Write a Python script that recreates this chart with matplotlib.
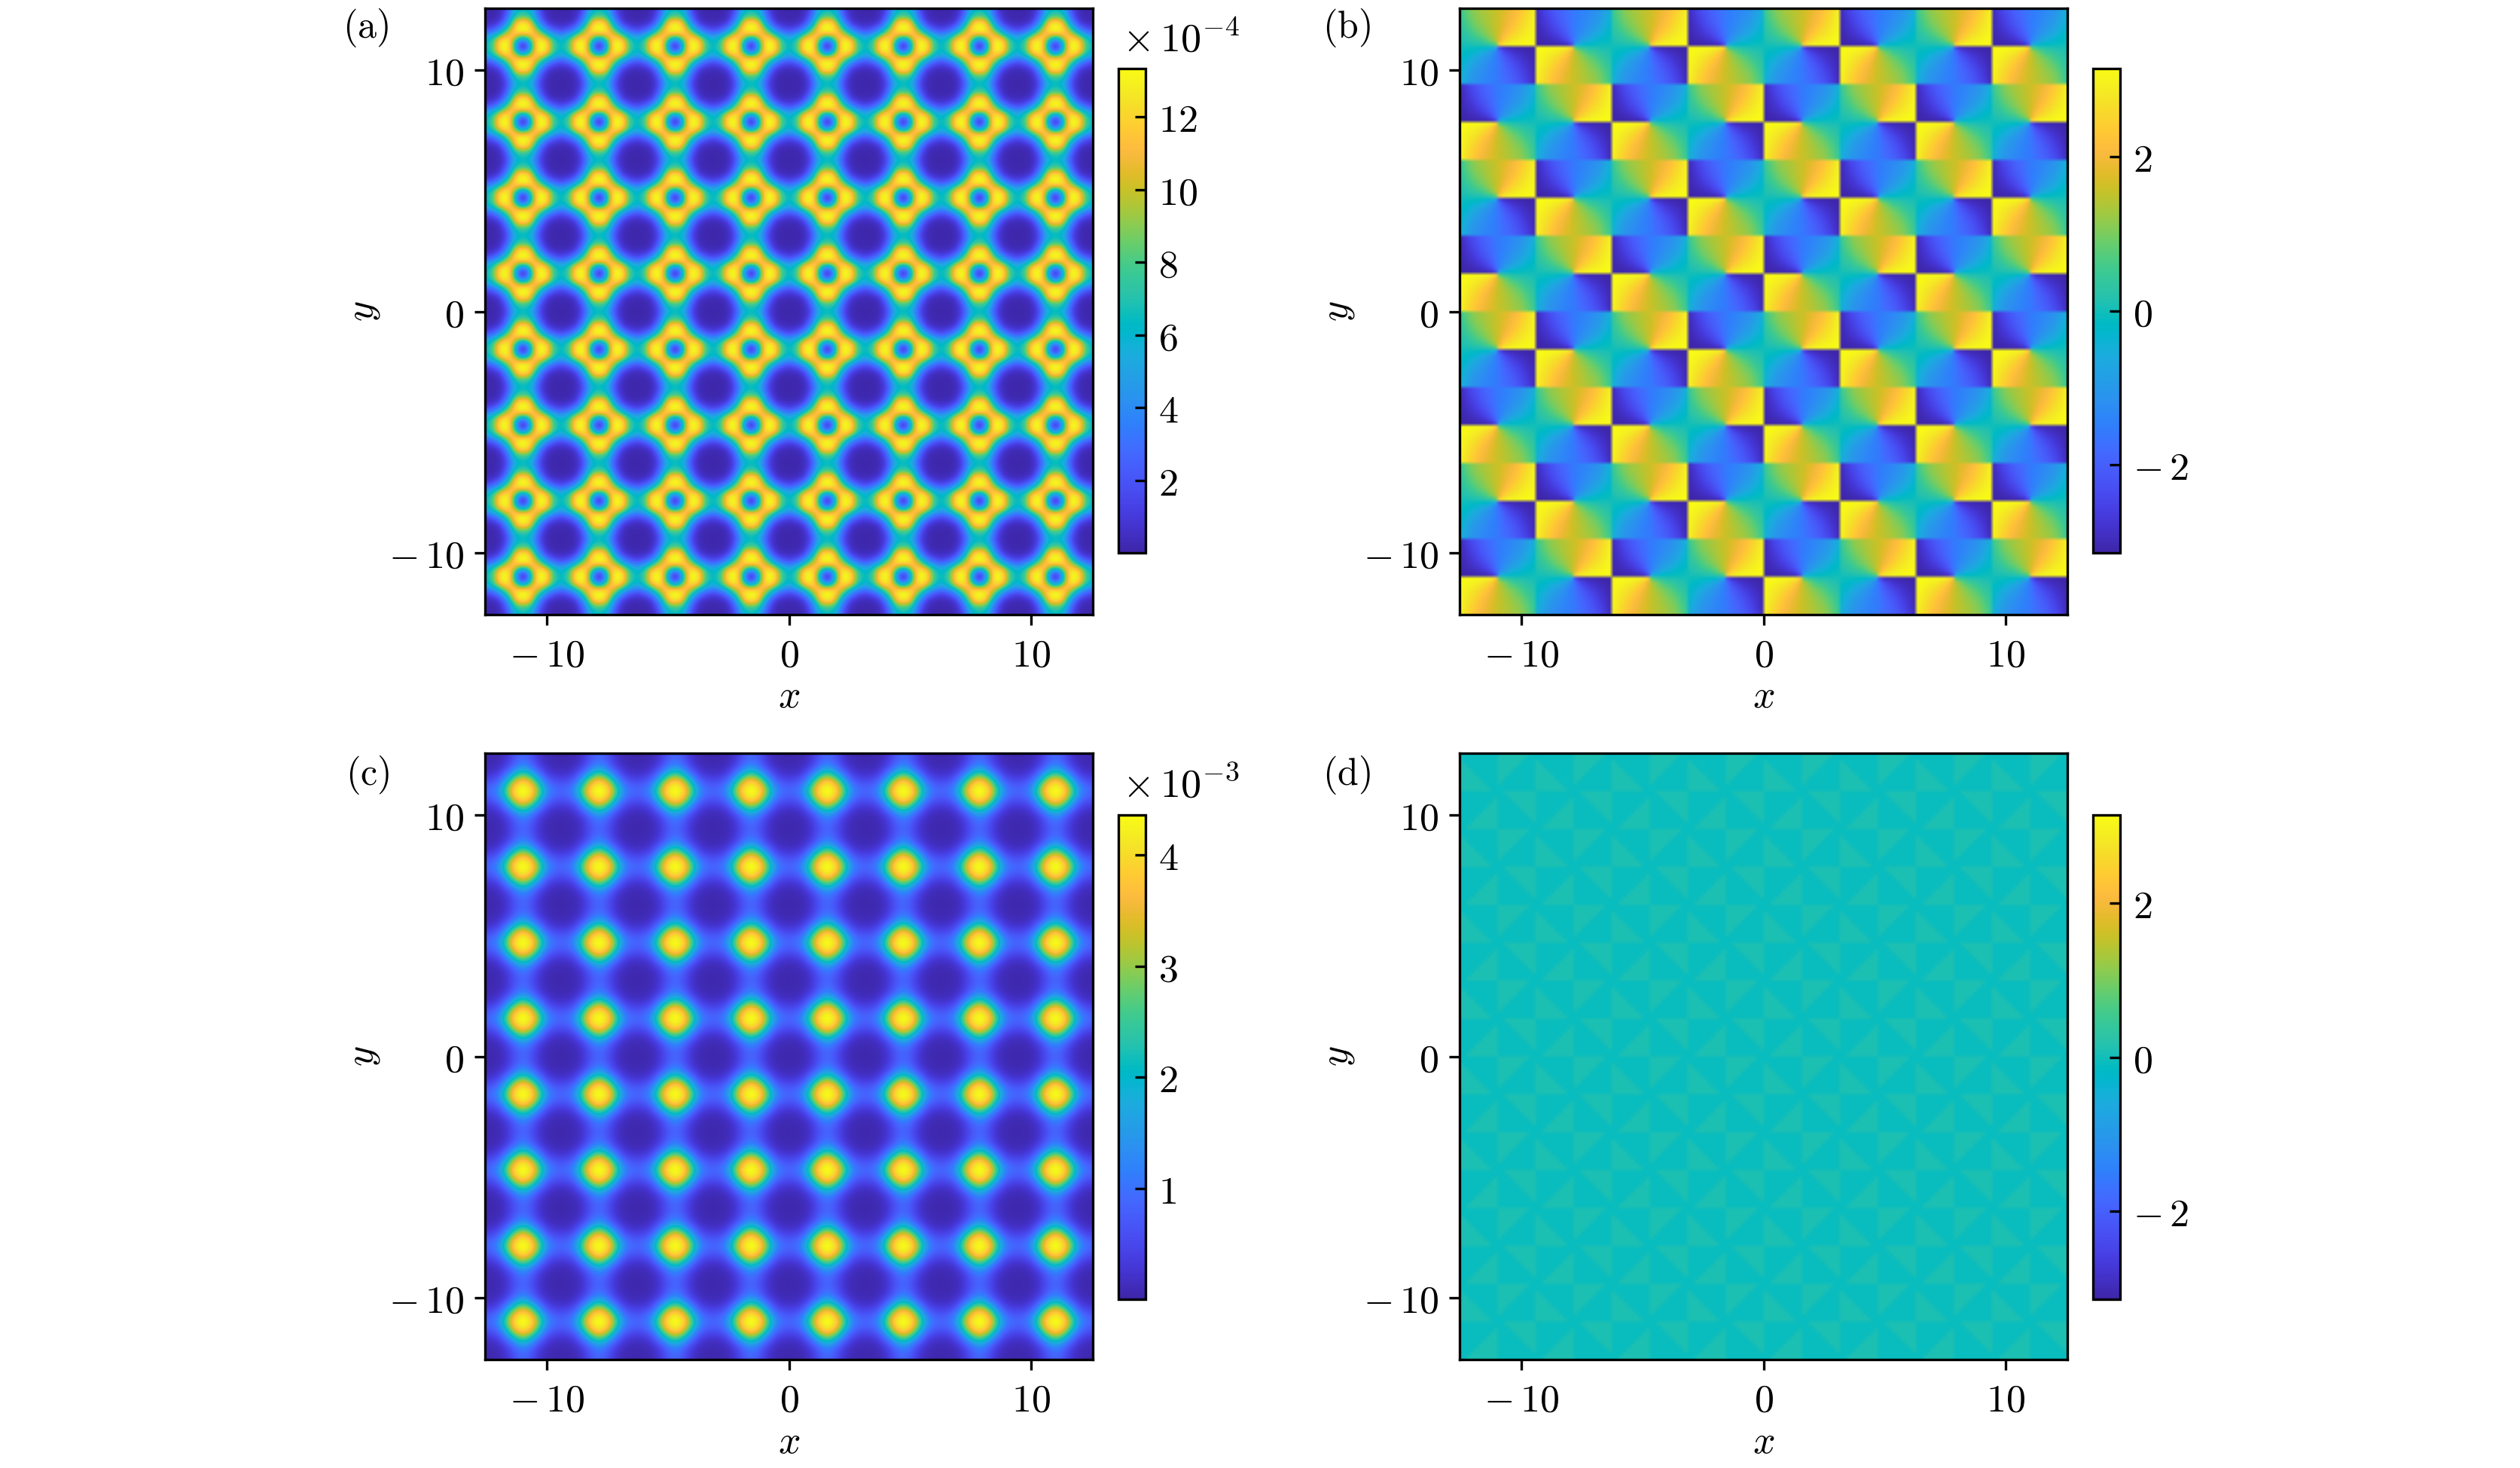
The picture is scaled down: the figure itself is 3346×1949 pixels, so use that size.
import numpy as np
import matplotlib
matplotlib.use("Agg")
import matplotlib.pyplot as plt
from matplotlib.colors import LinearSegmentedColormap

plt.rcParams['mathtext.fontset'] = 'cm'
plt.rcParams['font.family'] = 'serif'
plt.rcParams['font.size'] = 12.5

parula_colors = [
    (0.2422, 0.1504, 0.6603), (0.2504, 0.1650, 0.7076), (0.2578, 0.1818, 0.7511), (0.2647, 0.1978, 0.7952),
    (0.2706, 0.2147, 0.8364), (0.2751, 0.2342, 0.8710), (0.2783, 0.2559, 0.8991), (0.2803, 0.2782, 0.9221),
    (0.2813, 0.3006, 0.9414), (0.2810, 0.3228, 0.9579), (0.2795, 0.3447, 0.9717), (0.2760, 0.3667, 0.9829),
    (0.2699, 0.3892, 0.9906), (0.2602, 0.4123, 0.9952), (0.2440, 0.4358, 0.9988), (0.2206, 0.4603, 0.9973),
    (0.1963, 0.4847, 0.9892), (0.1834, 0.5074, 0.9798), (0.1786, 0.5289, 0.9682), (0.1764, 0.5499, 0.9520),
    (0.1687, 0.5720, 0.9359), (0.1540, 0.5902, 0.9218), (0.1460, 0.6091, 0.9079), (0.1380, 0.6276, 0.8973),
    (0.1248, 0.6459, 0.8883), (0.1113, 0.6635, 0.8763), (0.0952, 0.6798, 0.8598), (0.0689, 0.6948, 0.8394),
    (0.0297, 0.7082, 0.8163), (0.0036, 0.7203, 0.7917), (0.0067, 0.7312, 0.7660), (0.0433, 0.7411, 0.7394),
    (0.0964, 0.7500, 0.7120), (0.1408, 0.7584, 0.6842), (0.1717, 0.7670, 0.6554), (0.1938, 0.7758, 0.6251),
    (0.2161, 0.7843, 0.5923), (0.2470, 0.7918, 0.5567), (0.2906, 0.7973, 0.5188), (0.3406, 0.8008, 0.4789),
    (0.3909, 0.8029, 0.4354), (0.4456, 0.8024, 0.3909), (0.5044, 0.7993, 0.3480), (0.5616, 0.7942, 0.3045),
    (0.6174, 0.7876, 0.2612), (0.6720, 0.7793, 0.2227), (0.7242, 0.7698, 0.1910), (0.7738, 0.7598, 0.1646),
    (0.8203, 0.7498, 0.1535), (0.8634, 0.7406, 0.1596), (0.9035, 0.7330, 0.1774), (0.9393, 0.7288, 0.2100),
    (0.9728, 0.7298, 0.2394), (0.9956, 0.7434, 0.2371), (0.9970, 0.7659, 0.2199), (0.9952, 0.7893, 0.2028),
    (0.9892, 0.8136, 0.1885), (0.9786, 0.8386, 0.1766), (0.9676, 0.8639, 0.1643), (0.9610, 0.8890, 0.1537),
    (0.9597, 0.9135, 0.1423), (0.9628, 0.9373, 0.1265), (0.9691, 0.9606, 0.1064), (0.9769, 0.9839, 0.0805)]

# values: one quarter of a period, from a density peak outwards
density_a = [
    [0.3, 2.5, 8.0, 12.8, 13.3, 12.5, 9.0, 7.0, 6.4],
    [2.5, 4.5, 8.8, 12.6, 13.1, 12.0, 8.8, 6.7, 6.1],
    [8.0, 8.8, 11.5, 11.5, 11.0, 9.0, 6.7, 5.4, 5.0],
    [12.8, 12.6, 11.5, 10.0, 7.5, 5.2, 3.8, 3.0, 2.5],
    [13.3, 13.1, 11.0, 7.5, 4.8, 3.0, 1.8, 1.2, 1.0],
    [12.5, 12.0, 9.0, 5.2, 3.0, 1.2, 0.6, 0.4, 0.35],
    [9.0, 8.8, 6.7, 3.8, 1.8, 0.6, 0.25, 0.15, 0.15],
    [7.0, 6.7, 5.4, 3.0, 1.2, 0.4, 0.15, 0.1, 0.1],
    [6.4, 6.1, 5.0, 2.5, 1.0, 0.35, 0.15, 0.1, 0.05],
]
density_c = [
    [4.36, 4.3, 3.85, 3.05, 2.2, 1.45, 1.05, 0.9, 0.85],
    [4.3, 4.1, 3.65, 2.85, 2.0, 1.3, 0.95, 0.8, 0.76],
    [3.85, 3.65, 3.1, 2.3, 1.5, 0.98, 0.72, 0.6, 0.56],
    [3.05, 2.85, 2.3, 1.6, 1.05, 0.66, 0.45, 0.37, 0.35],
    [2.2, 2.0, 1.5, 1.05, 0.68, 0.4, 0.26, 0.2, 0.18],
    [1.45, 1.3, 0.98, 0.66, 0.4, 0.24, 0.14, 0.11, 0.1],
    [1.05, 0.95, 0.72, 0.45, 0.26, 0.14, 0.09, 0.07, 0.06],
    [0.9, 0.8, 0.6, 0.37, 0.2, 0.11, 0.07, 0.05, 0.05],
    [0.85, 0.76, 0.56, 0.35, 0.18, 0.1, 0.06, 0.05, 0.04],
]
# panel (b), one tile next to the jump: 0 along the horizontal edge and the far side
phase_fan_jump = [
    [0.500, 0.205, 0.126, 0.088, 0.063, 0.047, 0.033, 0.024, 0.015, 0.007],
    [0.795, 0.500, 0.344, 0.251, 0.186, 0.138, 0.100, 0.070, 0.045, 0.021],
    [0.874, 0.656, 0.500, 0.385, 0.295, 0.224, 0.164, 0.116, 0.076, 0.035],
    [0.910, 0.742, 0.605, 0.491, 0.387, 0.304, 0.224, 0.161, 0.105, 0.049],
    [0.930, 0.795, 0.677, 0.571, 0.467, 0.376, 0.281, 0.205, 0.134, 0.063],
    [0.942, 0.830, 0.728, 0.637, 0.532, 0.431, 0.333, 0.245, 0.163, 0.077],
    [0.951, 0.856, 0.766, 0.678, 0.586, 0.486, 0.382, 0.285, 0.191, 0.091],
    [0.958, 0.874, 0.795, 0.716, 0.626, 0.531, 0.425, 0.323, 0.218, 0.105],
    [0.963, 0.889, 0.818, 0.745, 0.661, 0.571, 0.465, 0.360, 0.244, 0.119],
    [0.967, 0.900, 0.836, 0.770, 0.691, 0.604, 0.500, 0.391, 0.270, 0.132],
]
# panel (b), one tile on the zero side of the fan
phase_fan_zero = [
    [0.500, 0.323, 0.205, 0.142, 0.105, 0.083, 0.063, 0.045, 0.032, 0.020],
    [0.874, 0.656, 0.500, 0.381, 0.295, 0.240, 0.186, 0.134, 0.095, 0.060],
    [0.924, 0.781, 0.656, 0.542, 0.444, 0.373, 0.295, 0.218, 0.156, 0.098],
    [0.946, 0.842, 0.742, 0.642, 0.551, 0.474, 0.387, 0.295, 0.214, 0.137],
    [0.958, 0.874, 0.795, 0.711, 0.626, 0.553, 0.467, 0.363, 0.271, 0.174],
    [0.965, 0.896, 0.830, 0.758, 0.683, 0.614, 0.532, 0.424, 0.322, 0.211],
    [0.971, 0.912, 0.856, 0.793, 0.725, 0.667, 0.586, 0.474, 0.365, 0.245],
    [0.975, 0.924, 0.874, 0.819, 0.758, 0.704, 0.626, 0.544, 0.410, 0.279],
    [0.978, 0.933, 0.889, 0.839, 0.783, 0.734, 0.661, 0.561, 0.449, 0.311],
    [0.980, 0.940, 0.900, 0.855, 0.804, 0.758, 0.691, 0.599, 0.484, 0.341],
]
# tile of panel (d): 1 marks the slightly greener triangle
triangle_d = [
    [1, 1, 1, 1, 1, 1, 1, 1, 0, 0],
    [1, 1, 1, 1, 1, 1, 1, 0, 0, 0],
    [1, 1, 1, 1, 1, 1, 0, 0, 0, 0],
    [1, 1, 1, 1, 1, 0, 0, 0, 0, 0],
    [1, 1, 1, 1, 0, 0, 0, 0, 0, 0],
    [1, 1, 1, 0, 0, 0, 0, 0, 0, 0],
    [1, 1, 0, 0, 0, 0, 0, 0, 0, 0],
    [1, 0, 0, 0, 0, 0, 0, 0, 0, 0],
    [0, 0, 0, 0, 0, 0, 0, 0, 0, 0],
    [0, 0, 0, 0, 0, 0, 0, 0, 0, 0],
]
phase_d_low = -0.05
phase_d_high = 0.08

axis_ticks = [-10, 0, 10]
axis_labels = [r'$-\,10$', r'$0$', r'$10$']
ticks_a = [2, 4, 6, 8, 10, 12]
ticks_c = [1, 2, 3, 4]
ticks_phase = [-2, 0, 2]
labels_phase = [r'$-\,2$', r'$0$', r'$2$']
limits_a = (0, 13.33)
limits_c = (0, 4.36)
periods = 8

W, H = 3346, 1949
parula = LinearSegmentedColormap.from_list('parula', parula_colors, N=256)
L = periods / 2 * np.pi


def rect(left, top, right, bottom):
    return [left / W, 1 - bottom / H, (right - left) / W, (bottom - top) / H]


def tile_density(table):
    q = np.array(table)
    idx = np.r_[8:0:-1, 0:8]
    full = np.r_[np.tile(idx, periods), 8]
    return q[np.ix_(full, full)]


def tile_phase(jump, zero):
    j = np.array(jump)
    z = np.array(zero)
    even = np.block([[z[::-1, ::-1], 2 - j[::-1, :]], [-z[:, ::-1], j - 2]])
    odd = np.block([[j[::-1, ::-1] - 2, -z[::-1, :]], [2 - j[:, ::-1], z]])
    rows = []
    for r in range(periods):
        rows.append([even if (r + c) % 2 == 0 else odd for c in range(periods)])
    return np.block(rows) * np.pi / 2


def tile_triangles(mask):
    m = np.array(mask)
    block = np.block([[m[::-1, :], m], [m[::-1, ::-1], m[:, ::-1]]])
    block = np.tile(block, (periods, periods))
    return np.where(block == 1, phase_d_high, phase_d_low)


fig = plt.figure(figsize=(W / 300, H / 300), dpi=300)


def panel(box, cbox, data, clim, ticks, ticklabels, name, name_xy, interp, exponent=None, node=False, stage='data'):
    ax = fig.add_axes(rect(*box))
    # node aligned tables reach half a cell outside the frame
    pad = L / (data.shape[0] - 1) if node else 0
    im = ax.imshow(data, extent=[-L - pad, L + pad, -L - pad, L + pad], cmap=parula, vmin=clim[0], vmax=clim[1],
                   interpolation=interp, interpolation_stage=stage, aspect='auto')
    ax.set_xlim(-L, L)
    ax.set_ylim(-L, L)
    ax.set_xticks(axis_ticks, axis_labels)
    ax.set_yticks(axis_ticks, axis_labels)
    ax.tick_params(length=3.3, width=0.8, pad=3.5)
    ax.set_xlabel(r'$x$', labelpad=1)
    ax.set_ylabel(r'$y$', labelpad=2)
    cax = fig.add_axes(rect(*cbox))
    cb = fig.colorbar(im, cax=cax)
    cb.set_ticks(ticks, labels=ticklabels)
    cb.outline.set_linewidth(0.8)
    cax.tick_params(direction='in', length=3.3, width=0.8, pad=4)
    fig.text(name_xy[0] / W, 1 - name_xy[1] / H, name, ha='center', va='center', fontsize=12)
    if exponent:
        fig.text((cbox[0] + 5) / W, 1 - (cbox[1] - 38) / H, exponent, ha='left', va='center', fontsize=13)


labels_a = ['$%d$' % t for t in ticks_a]
labels_c = ['$%d$' % t for t in ticks_c]

panel((644, 11, 1451, 816), (1485, 91, 1521, 734), tile_density(density_a), limits_a, ticks_a, labels_a,
      r'$\mathrm{(a)}$', (486, 37), 'bicubic', r'$\times\,10^{-4}$', node=True)
panel((1938, 11, 2745, 816), (2779, 91, 2815, 734), tile_phase(phase_fan_jump, phase_fan_zero), (-np.pi, np.pi), ticks_phase, labels_phase,
      r'$\mathrm{(b)}$', (1788, 37), 'bilinear', stage='rgba')
panel((644, 1000, 1451, 1805), (1485, 1082, 1521, 1725), tile_density(density_c), limits_c, ticks_c, labels_c,
      r'$\mathrm{(c)}$', (488, 1029), 'bicubic', r'$\times\,10^{-3}$', node=True)
panel((1938, 1000, 2745, 1805), (2779, 1082, 2815, 1725), tile_triangles(triangle_d), (-np.pi, np.pi), ticks_phase, labels_phase,
      r'$\mathrm{(d)}$', (1788, 1029), 'bilinear')

fig.savefig('out.png', dpi=300)
